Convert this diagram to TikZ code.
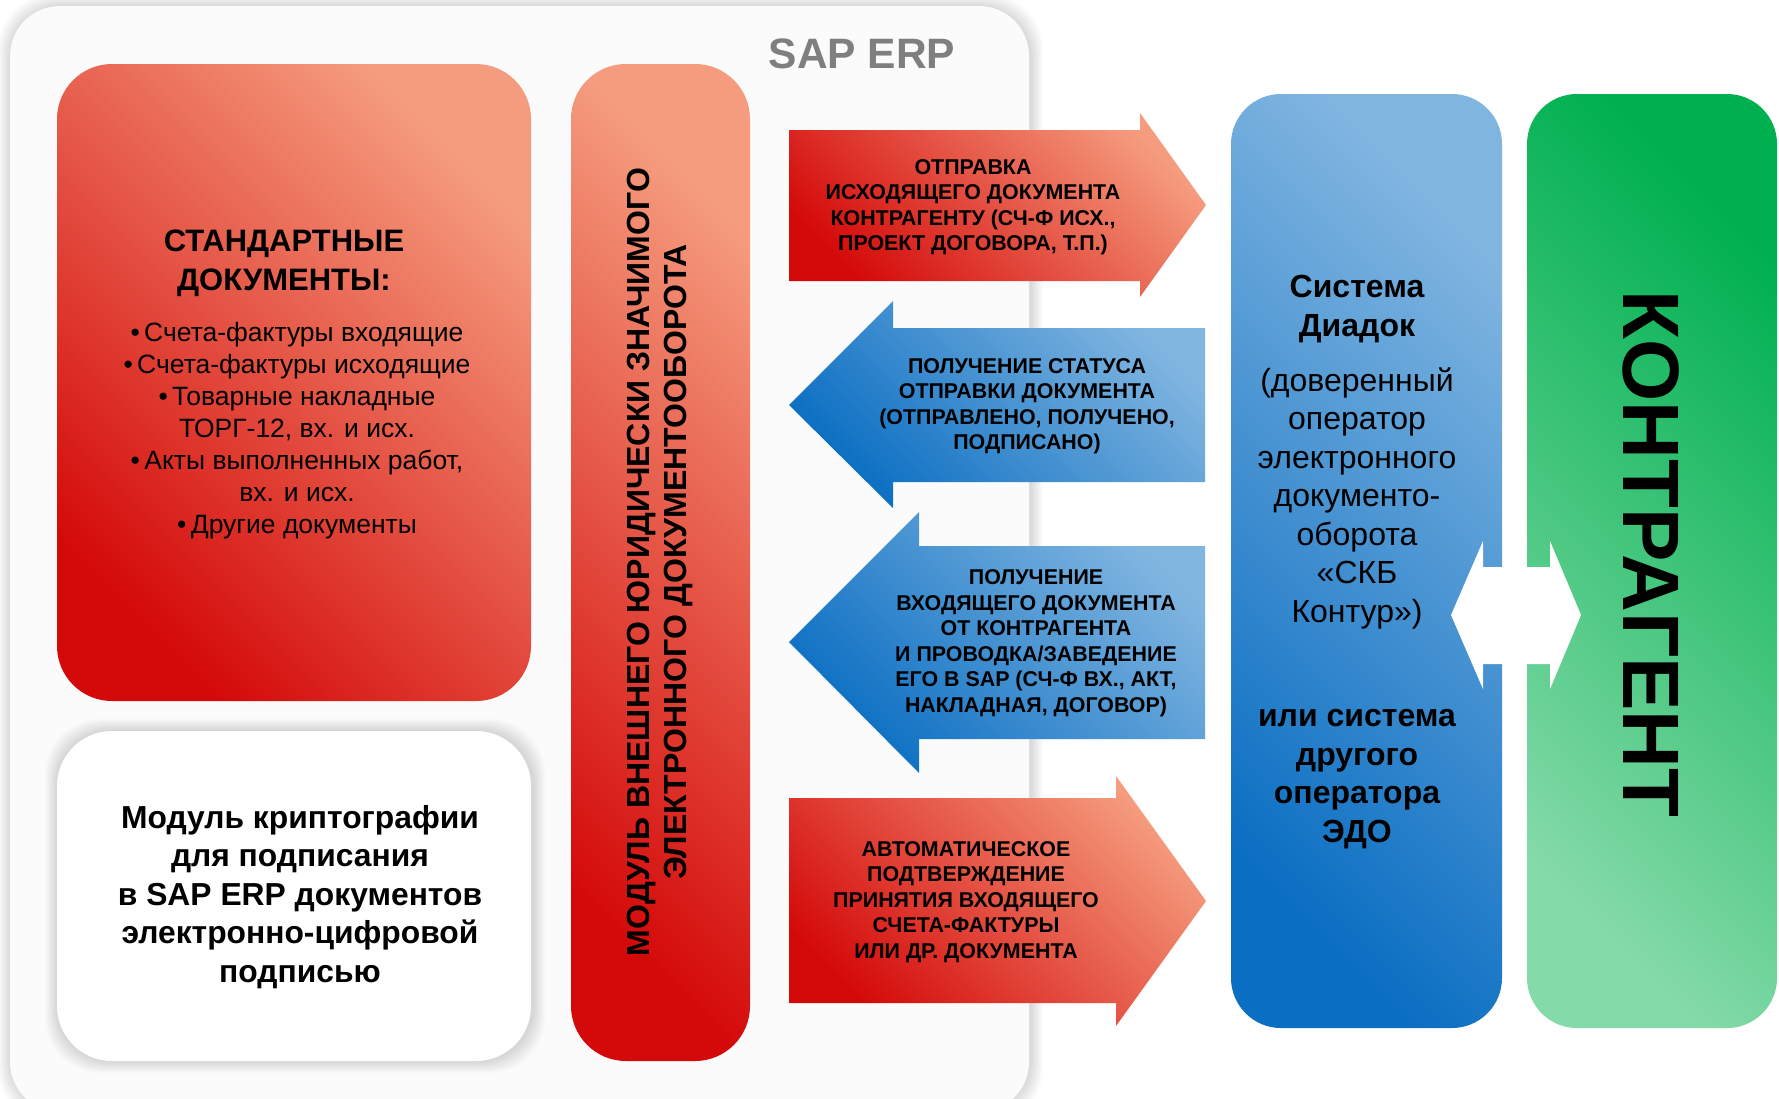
\documentclass[tikz,border=0pt]{standalone}
\usepackage{fontspec}
\setmainfont{Liberation Sans}
\definecolor{redD}{HTML}{D40A0A}
\definecolor{redL}{HTML}{F59C7E}
\definecolor{blueD}{HTML}{0A6EC2}
\definecolor{blueL}{HTML}{80B5E0}
\definecolor{greenD}{HTML}{00B050}
\definecolor{greenL}{HTML}{84DAA8}
\definecolor{sapgray}{HTML}{7F7F7F}
\definecolor{panelbg}{HTML}{FBFBFB}
\newcommand{\setfs}[2]{\fontsize{#1}{#2}\selectfont}
% soft shadow round a box: x1,y1,x2,y2
\newcommand{\softshade}[4]{%
  \foreach \s in {1,...,12}{\fill[black,opacity=0.011,rounded corners=55pt] (#1-\s,#2-\s) rectangle (#3+\s+2,#4+\s);}}

\begin{document}
\begin{tikzpicture}[x=1pt,y=-1pt,
  redfill/.style={shade,bottom color=redD,top color=redL,shading angle=-45},
  bluefill/.style={shade,bottom color=blueD,top color=blueL,shading angle=-45},
  greenfill/.style={shade,bottom color=greenL,top color=greenD,shading angle=-45},
  arrowtext/.style={align=center,font=\bfseries\setfs{21.4}{25.5}}]
\useasboundingbox[fill=white] (0,0) rectangle (1779,1098);
% SAP ERP panel
\softshade{10}{6}{1029}{1112}
\fill[panelbg,rounded corners=50pt] (10,6) rectangle (1029,1112);
\node[font=\bfseries\setfs{42.5}{42.5},text=sapgray] (sap) at (862,54) {SAP ERP};
% left column
\path[redfill,rounded corners=55pt] (57,64) rectangle (531,701);
\softshade{57}{731}{531}{1061}
\fill[white,rounded corners=55pt] (57,731) rectangle (531,1061);
\path[redfill,rounded corners=55pt] (571,64) rectangle (750,1061);
\node[align=center,font=\bfseries\setfs{31}{39}] (stdhead) at (284,263) {СТАНДАРТНЫЕ\\ДОКУМЕНТЫ:};
\node[align=center,font=\setfs{26.5}{32}] (stdlist) at (297,431)
  {•\,Счета-фактуры входящие\\•\,Счета-фактуры исходящие\\•\,Товарные накладные\\ТОРГ-12, вх. и исх.\\•\,Акты выполненных работ,\\вх. и исх.\\•\,Другие документы};
\node[align=center,font=\bfseries\setfs{31.8}{38.5}] (crypto) at (300,897)
  {Модуль криптографии\\для подписания\\в SAP ERP документов\\электронно-цифровой\\подписью};
\node[align=center,rotate=90,font=\bfseries\setfs{32}{37}] (edo) at (660,562)
  {МОДУЛЬ ВНЕШНЕГО ЮРИДИЧЕСКИ ЗНАЧИМОГО\\ЭЛЕКТРОННОГО ДОКУМЕНТООБОРОТА};
% arrows
\path[redfill] (789,130) -- (1140,130) -- (1140,113) -- (1206,205) -- (1140,297) -- (1140,281) -- (789,281) -- cycle;
\path[bluefill] (1205,328) -- (893,328) -- (893,301) -- (789,405) -- (893,508) -- (893,482) -- (1205,482) -- cycle;
\path[bluefill] (1205,546) -- (919,546) -- (919,512) -- (789,642) -- (919,773) -- (919,739) -- (1205,739) -- cycle;
\path[redfill] (789,798) -- (1116,798) -- (1116,776) -- (1206,901) -- (1116,1026) -- (1116,1003) -- (789,1003) -- cycle;
\node[arrowtext] (send) at (973,207) {ОТПРАВКА\\ИСХОДЯЩЕГО ДОКУМЕНТА\\КОНТРАГЕНТУ (СЧ-Ф ИСХ.,\\ПРОЕКТ ДОГОВОРА, Т.П.)};
\node[arrowtext] (status) at (1027,406) {ПОЛУЧЕНИЕ СТАТУСА\\ОТПРАВКИ ДОКУМЕНТА\\(ОТПРАВЛЕНО, ПОЛУЧЕНО,\\ПОДПИСАНО)};
\node[arrowtext] (receive) at (1036,643) {ПОЛУЧЕНИЕ\\ВХОДЯЩЕГО ДОКУМЕНТА\\ОТ КОНТРАГЕНТА\\И ПРОВОДКА/ЗАВЕДЕНИЕ\\ЕГО В SAP (СЧ-Ф ВХ., АКТ,\\НАКЛАДНАЯ, ДОГОВОР)};
\node[arrowtext] (confirm) at (966,902) {АВТОМАТИЧЕСКОЕ\\ПОДТВЕРЖДЕНИЕ\\ПРИНЯТИЯ ВХОДЯЩЕГО\\СЧЕТА-ФАКТУРЫ\\ИЛИ ДР. ДОКУМЕНТА};
% right columns
\path[bluefill,rounded corners=50pt] (1231,94) rectangle (1502,1028);
\path[greenfill,rounded corners=50pt] (1527,94) rectangle (1777,1028);
\fill[white] (1451,615) -- (1483,541) -- (1483,567) -- (1550,567) -- (1550,541) -- (1581,615)
  -- (1550,689) -- (1550,664) -- (1483,664) -- (1483,689) -- cycle;
\node[align=center,font=\bfseries\setfs{32}{38.5}] (diadok) at (1357,309) {Система\\Диадок};
\node[align=center,font=\setfs{32}{38.5}] (operator) at (1357,498)
  {(доверенный\\оператор\\электронного\\документо-\\оборота\\«СКБ\\Контур»)};
\node[align=center,font=\bfseries\setfs{32}{38.5}] (other) at (1357,779) {или система\\другого\\оператора\\ЭДО};
\node[rotate=-90,font=\bfseries\setfs{80}{80}] (partner) at (1651,554) {КОНТРАГЕНТ};
\end{tikzpicture}
\end{document}
